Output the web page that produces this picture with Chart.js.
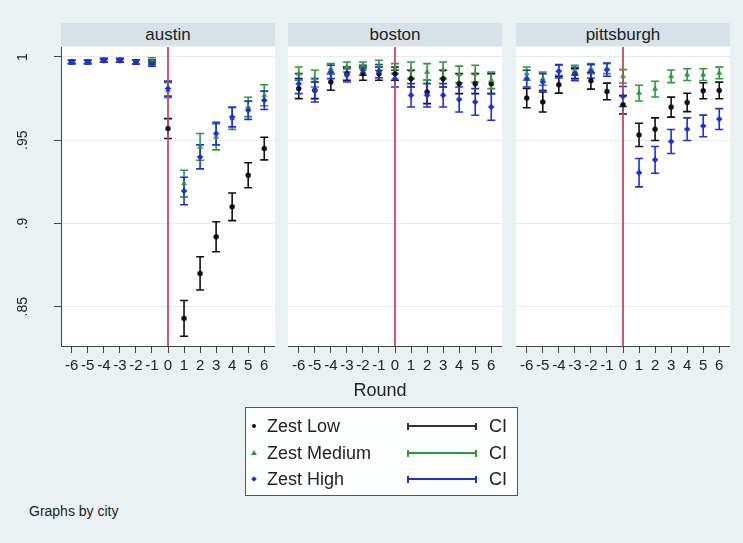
<!DOCTYPE html>
<html>
<head>
<meta charset="utf-8">
<script src="https://cdn.jsdelivr.net/npm/chart.js@4.4.1/dist/chart.umd.min.js"></script>
<style>
  body { margin: 0; background: #e9f1f3; font-family: "Liberation Sans", Arial, sans-serif; color: #222; }
  #wrap { position: relative; width: 743px; height: 543px; overflow: hidden; }
  canvas { position: absolute; }
  .ptitle { position: absolute; top: 23px; height: 23px; width: 214px; background: #d6e2e8;
            font-size: 17px; line-height: 23px; text-align: center; color: #222; }
  #xtitle { position: absolute; left: 330px; width: 100px; top: 380px; text-align: center; font-size: 18px; }
  #legend { position: absolute; left: 245px; top: 407px; width: 271px; height: 87px; background: #fdfefe;
            border: 1px solid #555; }
  .lrow { position: absolute; left: 0; height: 20px; width: 271px; font-size: 18px; line-height: 20px; }
  .lrow .txt { position: absolute; left: 21px; top: 0; }
  .lrow .ci { position: absolute; left: 243px; top: 0; }
  .lrow .bar { position: absolute; left: 161px; top: 9px; width: 70px; height: 0; border-top: 2px solid; }
  .lrow .bar:before, .lrow .bar:after { content: ""; position: absolute; top: -4.5px; width: 0; height: 7px; border-left: 2px solid; }
  .lrow .bar:before { left: 0; }
  .lrow .bar:after { right: 0; }
  #note { position: absolute; left: 29px; top: 503px; font-size: 14px; }
</style>
</head>
<body>
<div id="wrap">
  <div class="ptitle" style="left:61px">austin</div>
  <div class="ptitle" style="left:288px">boston</div>
  <div class="ptitle" style="left:516px">pittsburgh</div>
  <canvas id="cAustin" width="275" height="340" style="left:0px;top:42px"></canvas>
  <canvas id="cBoston" width="214" height="340" style="left:288px;top:42px"></canvas>
  <canvas id="cPitt" width="214" height="340" style="left:516px;top:42px"></canvas>
  <div id="xtitle">Round</div>
  <div id="legend"></div>
  <div id="note">Graphs by city</div>
</div>
<script>
// x categories and y ticks
var rounds = [-6, -5, -4, -3, -2, -1, 0, 1, 2, 3, 4, 5, 6];
var yTicks = [0.85, 0.9, 0.95, 1];
var yTickLabels = ['.85', '.9', '.95', '1'];
var yMin = 0.8264, yMax = 1.006;

// austin
var austinLow = [0.997, 0.997, 0.998, 0.998, 0.997, 0.997, 0.957, 0.843, 0.870, 0.892, 0.910, 0.929, 0.945];
var austinLowCI = [0.001, 0.001, 0.001, 0.001, 0.0012, 0.0012, 0.006, 0.0107, 0.010, 0.009, 0.0083, 0.0075, 0.0068];
var austinMed = [0.997, 0.997, 0.998, 0.998, 0.997, 0.998, 0.980, 0.924, 0.946, 0.952, 0.963, 0.970, 0.977];
var austinMedCI = [0.001, 0.001, 0.001, 0.001, 0.0012, 0.0015, 0.0045, 0.008, 0.008, 0.0078, 0.0065, 0.0058, 0.0063];
var austinHigh = [0.997, 0.997, 0.998, 0.998, 0.997, 0.996, 0.981, 0.9195, 0.940, 0.954, 0.964, 0.968, 0.974];
var austinHighCI = [0.001, 0.001, 0.001, 0.001, 0.0012, 0.0015, 0.0045, 0.0083, 0.0072, 0.0068, 0.006, 0.0055, 0.0055];

// boston
var bostonLow = [0.981, 0.980, 0.985, 0.990, 0.990, 0.990, 0.990, 0.987, 0.979, 0.987, 0.984, 0.984, 0.984];
var bostonLowCI = [0.006, 0.005, 0.005, 0.004, 0.004, 0.004, 0.004, 0.005, 0.007, 0.005, 0.006, 0.006, 0.006];
var bostonMed = [0.990, 0.987, 0.993, 0.994, 0.995, 0.995, 0.993, 0.992, 0.991, 0.992, 0.9895, 0.990, 0.986];
var bostonMedCI = [0.004, 0.005, 0.003, 0.003, 0.002, 0.003, 0.003, 0.005, 0.005, 0.005, 0.005, 0.005, 0.005];
var bostonHigh = [0.984, 0.980, 0.991, 0.989, 0.992, 0.9915, 0.987, 0.977, 0.977, 0.977, 0.9745, 0.973, 0.970];
var bostonHighCI = [0.006, 0.007, 0.004, 0.004, 0.003, 0.004, 0.005, 0.007, 0.007, 0.007, 0.0075, 0.008, 0.008];

// pittsburgh
var pittLow = [0.9753, 0.973, 0.9833, 0.990, 0.9857, 0.9793, 0.9713, 0.9532, 0.9566, 0.9699, 0.9727, 0.9797, 0.9799];
var pittLowCI = [0.0058, 0.006, 0.005, 0.003, 0.005, 0.005, 0.0055, 0.007, 0.0068, 0.006, 0.0055, 0.0048, 0.005];
var pittMed = [0.990, 0.987, 0.992, 0.992, 0.993, 0.993, 0.9884, 0.9783, 0.9807, 0.9884, 0.9894, 0.9894, 0.9904];
var pittMedCI = [0.004, 0.004, 0.003, 0.003, 0.003, 0.003, 0.004, 0.0047, 0.0047, 0.0038, 0.0035, 0.0035, 0.0035];
var pittHigh = [0.987, 0.985, 0.9914, 0.9898, 0.9914, 0.9924, 0.9763, 0.9305, 0.9382, 0.9492, 0.9566, 0.9586, 0.9627];
var pittHighCI = [0.005, 0.005, 0.004, 0.004, 0.004, 0.004, 0.006, 0.0085, 0.008, 0.0072, 0.0068, 0.0065, 0.0063];

var levels = [
  { label: 'Zest Low', color: '#111111', style: 'circle', radius: 2.5 },
  { label: 'Zest Medium', color: '#2f9a3a', style: 'triangle', radius: 3 },
  { label: 'Zest High', color: '#1f2fe0', style: 'rectRot', radius: 3 }
];
var refColor = '#c44a67';
var axisColor = '#444';
var gridColor = '#e4edf0';
var fontFam = '"Liberation Sans", Arial, sans-serif';

var toXY = function(vals) {
  return rounds.map(function(r, i) { return { x: r, y: vals[i] }; });
};

// white plot region
var plotBg = {
  id: 'plotBg',
  beforeDraw: function(chart) {
    var a = chart.chartArea, c = chart.ctx;
    c.save();
    c.fillStyle = '#ffffff';
    c.fillRect(a.left, a.top, a.right - a.left, a.bottom - a.top);
    c.restore();
  }
};

// caps and whiskers drawn from the chart's own scales
var ciPlugin = {
  id: 'ciBars',
  beforeDatasetsDraw: function(chart) {
    var c = chart.ctx, xs = chart.scales.x, ys = chart.scales.y;
    c.save();
    chart.data.datasets.forEach(function(ds) {
      if (!ds.ci) return;
      c.strokeStyle = ds.borderColor;
      c.lineWidth = 1.6;
      ds.data.forEach(function(p, i) {
        var px = xs.getPixelForValue(p.x);
        var lo = ys.getPixelForValue(p.y - ds.ci[i]);
        var hi = ys.getPixelForValue(p.y + ds.ci[i]);
        c.beginPath();
        c.moveTo(px, lo); c.lineTo(px, hi);
        c.moveTo(px - 4, lo); c.lineTo(px + 4, lo);
        c.moveTo(px - 4, hi); c.lineTo(px + 4, hi);
        c.stroke();
      });
    });
    c.restore();
  }
};

var makePanel = function(id, series, cis, showY) {
  var datasets = [{
    data: [{ x: 0, y: yMin }, { x: 0, y: yMax }],
    borderColor: refColor, borderWidth: 1.8, pointRadius: 0, order: 10
  }];
  levels.forEach(function(lv, k) {
    datasets.push({
      label: lv.label,
      data: toXY(series[k]),
      ci: cis[k],
      showLine: false,
      borderColor: lv.color,
      backgroundColor: lv.color,
      pointStyle: lv.style,
      pointRadius: lv.radius,
      pointBorderWidth: 0.5,
      order: 3 - k
    });
  });
  return new Chart(document.getElementById(id), {
    type: 'line',
    data: { datasets: datasets },
    plugins: [plotBg, ciPlugin],
    options: {
      responsive: false,
      animation: false,
      devicePixelRatio: 1,
      layout: { autoPadding: false, padding: { top: 5, left: 0, right: 0, bottom: 0 } },
      plugins: { legend: { display: false }, tooltip: { enabled: false } },
      scales: {
        x: {
          type: 'linear', min: -6.67, max: 6.67,
          afterBuildTicks: function(s) { s.ticks = rounds.map(function(v) { return { value: v }; }); },
          afterFit: function(s) { s.height = 36; s.paddingLeft = 0; s.paddingRight = 0; },
          grid: { drawOnChartArea: false, drawTicks: true, tickLength: 7, tickColor: axisColor },
          border: { display: true, color: axisColor, width: 1 },
          ticks: { color: '#222', padding: 4, maxRotation: 0, autoSkip: false, font: { family: fontFam, size: 15 },
                   callback: function(v) { return String(v); } }
        },
        y: {
          type: 'linear', min: yMin, max: yMax,
          afterBuildTicks: function(s) { s.ticks = yTicks.map(function(v) { return { value: v }; }); },
          afterFit: function(s) { s.width = showY ? 61 : 0; s.paddingTop = 0; s.paddingBottom = 0; },
          grid: { color: gridColor, drawTicks: showY, tickLength: 7, tickColor: axisColor },
          border: { display: showY, color: axisColor, width: 1 },
          ticks: {
            display: showY, color: '#222', padding: 21, minRotation: 90, maxRotation: 90, crossAlign: 'center',
            font: { family: fontFam, size: 14 },
            callback: function(v) { var i = yTicks.indexOf(v); return i >= 0 ? yTickLabels[i] : ''; }
          }
        }
      }
    }
  });
};

makePanel('cAustin', [austinLow, austinMed, austinHigh], [austinLowCI, austinMedCI, austinHighCI], true);
makePanel('cBoston', [bostonLow, bostonMed, bostonHigh], [bostonLowCI, bostonMedCI, bostonHighCI], false);
makePanel('cPitt', [pittLow, pittMed, pittHigh], [pittLowCI, pittMedCI, pittHighCI], false);

// legend rows
var markerHtml = function(lv) {
  if (lv.style === 'circle') return '<span style="position:absolute;left:6px;top:8px;width:4px;height:4px;border-radius:2px;background:' + lv.color + '"></span>';
  if (lv.style === 'triangle') return '<span style="position:absolute;left:5px;top:7px;width:0;height:0;border-left:3px solid transparent;border-right:3px solid transparent;border-bottom:5px solid ' + lv.color + '"></span>';
  return '<span style="position:absolute;left:6px;top:8px;width:4px;height:4px;transform:rotate(45deg);background:' + lv.color + '"></span>';
};
var leg = document.getElementById('legend');
var rowTops = [8, 35, 61];
levels.forEach(function(lv, k) {
  var row = document.createElement('div');
  row.className = 'lrow';
  row.style.top = rowTops[k] + 'px';
  row.innerHTML = markerHtml(lv) + '<span class="txt">' + lv.label + '</span>' +
    '<span class="bar" style="color:' + (k === 0 ? '#333' : lv.color) + '"></span>' +
    '<span class="ci">CI</span>';
  leg.appendChild(row);
});
</script>
</body>
</html>
